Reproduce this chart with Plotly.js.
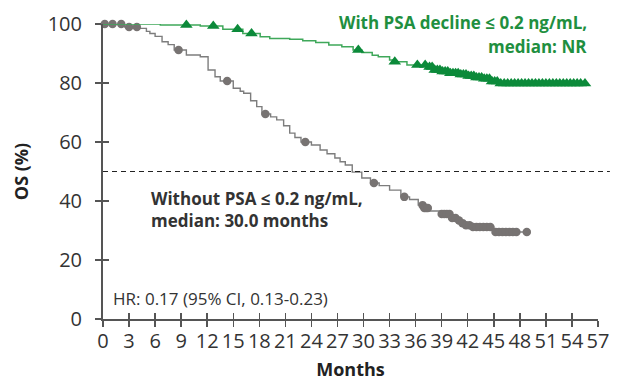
<!DOCTYPE html>
<html>
<head>
<meta charset="utf-8">
<script src="https://cdn.plot.ly/plotly-3.0.1.min.js"></script>
<style>html,body{margin:0;padding:0;background:#fff}#chart{width:620px;height:381px}</style>
</head>
<body>
<div id="chart"></div>
<script>
// Kaplan-Meier step data: Without PSA decline (grey)
const withoutTimes = [0, 2.5, 4.2, 5.0, 5.4, 6.0, 6.8, 7.5, 8.2, 9.6, 11.2, 12.1, 12.9, 13.5, 15.0, 15.8, 16.2, 17.0, 17.7, 18.3, 19.3, 20.0, 20.8, 21.5, 22.1, 22.8, 24.0, 25.0, 25.8, 26.7, 27.3, 27.9, 28.7, 29.8, 30.8, 31.8, 33.0, 34.3, 35.3, 36.3, 37.0, 37.6, 38.8, 40.0, 40.7, 41.1, 41.7, 42.3, 45.0, 48.8];
const withoutSurv  = [100, 99.0, 98.5, 97.5, 96.8, 95.8, 94.0, 93.0, 91.2, 89.5, 88.9, 84.4, 82.1, 80.7, 78.2, 77.2, 76.5, 74.0, 72.0, 69.5, 68.5, 67.5, 65.5, 63.0, 61.5, 60.0, 59.0, 57.3, 56.0, 54.6, 53.3, 52.2, 49.8, 47.8, 46.1, 45.2, 43.7, 41.4, 40.5, 38.6, 37.6, 36.6, 35.6, 34.2, 33.4, 32.5, 31.8, 31.2, 29.5, 29.5];
const withoutCensor = [0.2, 1.1, 2.1, 3.0, 3.9, 8.7, 14.3, 18.7, 23.3, 31.2, 34.7, 36.8, 37.0, 37.2, 37.4, 39.0, 39.3, 39.6, 39.9, 40.2, 40.6, 41.0, 41.4, 41.8, 42.2, 42.6, 43.0, 43.4, 43.8, 44.2, 44.6, 45.2, 45.6, 46.0, 46.4, 46.8, 47.2, 47.6, 48.8];

// With PSA decline <= 0.2 ng/mL (green)
const withTimes = [0, 6.6, 11.2, 13.8, 16.1, 18.1, 19.2, 21.5, 23.0, 24.5, 26.0, 27.5, 28.8, 29.8, 31.0, 31.7, 33.0, 33.5, 35.0, 37.3, 38.0, 39.0, 40.0, 41.0, 41.9, 42.8, 43.8, 44.8, 45.7, 55.5];
const withSurv  = [100, 99.7, 99.3, 98.2, 96.8, 95.7, 95.1, 94.8, 94.3, 93.7, 92.9, 92.3, 91.2, 90.3, 89.4, 88.9, 87.8, 87.2, 86.1, 85.4, 84.4, 83.9, 83.3, 82.9, 82.4, 81.9, 81.4, 80.5, 79.8, 79.8];
const withCensor = [9.6, 12.7, 15.5, 17.1, 29.4, 33.6, 36.2, 37.1, 37.6, 37.9, 38.2, 38.5, 38.8, 39.1, 39.4, 39.7, 40.0, 40.3, 40.6, 40.9, 41.2, 41.5, 41.8, 42.1, 42.4, 42.7, 43.0, 43.3, 43.6, 43.9, 44.2, 44.5, 44.8, 45.1, 45.4, 45.8, 46.2, 46.6, 47.0, 47.4, 47.8, 48.2, 48.6, 49.0, 49.4, 49.8, 50.2, 50.6, 51.0, 51.4, 51.8, 52.2, 52.6, 53.0, 53.4, 53.8, 54.2, 54.6, 55.0, 55.5];

const xTicks = [0,3,6,9,12,15,18,21,24,27,30,33,36,39,42,45,48,51,54,57];
const yTicks = [0,20,40,60,80,100];

function stepAt(ts, ss, t) {
  let v = ss[0];
  for (let i = 0; i < ts.length; i++) { if (ts[i] <= t) v = ss[i]; }
  return v;
}

const FONT = 'Open Sans, sans-serif';
const GREEN_LINE = '#3fa85a', GREEN_MARK = '#0c8a3a', GREY_LINE = '#7d7d7d', GREY_MARK = '#777372';

const traces = [
  {x: withoutTimes, y: withoutSurv, mode: 'lines', line: {shape: 'hv', color: GREY_LINE, width: 1.4}, hoverinfo: 'skip', cliponaxis: false},
  {x: withoutCensor, y: withoutCensor.map(t => stepAt(withoutTimes, withoutSurv, t)), mode: 'markers', marker: {symbol: 'circle', size: 8.5, color: GREY_MARK}, cliponaxis: false},
  {x: withTimes, y: withSurv, mode: 'lines', line: {shape: 'hv', color: GREEN_LINE, width: 1.5}, cliponaxis: false},
  {x: withCensor, y: withCensor.map(t => stepAt(withTimes, withSurv, t)), mode: 'markers', marker: {symbol: 'triangle-up', size: 11, color: GREEN_MARK}, cliponaxis: false},
  {x: [0], y: [0], xaxis: 'x2', yaxis: 'y2', mode: 'markers', marker: {opacity: 0}, hoverinfo: 'skip'}
];

const axBase = {showgrid: false, zeroline: false, showline: true, linecolor: '#555', linewidth: 2, tickcolor: '#555', tickwidth: 1.5, ticklen: 6};

const layout = {
  width: 620, height: 381,
  margin: {l: 103, r: 22, t: 24, b: 62},
  paper_bgcolor: '#fff', plot_bgcolor: '#fff',
  showlegend: false,
  font: {family: FONT, color: '#333'},
  xaxis: Object.assign({}, axBase, {range: [0, 57], tickvals: xTicks, ticktext: xTicks.map(String), ticks: 'outside', tickfont: {size: 20, color: '#333'}, ticklabelstandoff: -3,
    title: {text: '<b>Months</b>', font: {size: 18, color: '#222'}, standoff: 19}}),
  yaxis: Object.assign({}, axBase, {range: [0, 100], tickvals: yTicks, ticktext: yTicks.map(String), ticks: 'outside', tickfont: {size: 20, color: '#333'}, ticklabelstandoff: 9,
    title: {text: '<b>OS (%)</b>', font: {size: 18, color: '#222'}, standoff: 14}}),
  xaxis2: Object.assign({}, axBase, {overlaying: 'x', anchor: 'y2', range: [0, 57], tickvals: xTicks, ticks: 'inside', showticklabels: false, showline: false}),
  yaxis2: Object.assign({}, axBase, {overlaying: 'y', anchor: 'x2', range: [0, 100], tickvals: yTicks, ticks: 'inside', showticklabels: false, showline: false}),
  shapes: [
    {type: 'line', xref: 'paper', yref: 'y', x0: 0, x1: 1.024, y0: 50, y1: 50, line: {color: '#222', width: 1.2, dash: '5px,4px'}}
  ],
  annotations: [
    {xref: 'paper', yref: 'paper', x: 0.982, y: 1.004, xanchor: 'right', yanchor: 'middle', align: 'right', showarrow: false,
     text: '<b>With PSA decline ≤ 0.2 ng/mL,</b>', font: {size: 17, color: '#1f8f40'}},
    {xref: 'paper', yref: 'paper', x: 0.982, y: 0.923, xanchor: 'right', yanchor: 'middle', align: 'right', showarrow: false,
     text: '<b>median: NR</b>', font: {size: 17, color: '#1f8f40'}},
    {xref: 'paper', yref: 'paper', x: 0.093, y: 0.41, xanchor: 'left', yanchor: 'middle', align: 'left', showarrow: false,
     text: '<b>Without PSA ≤ 0.2 ng/mL,</b>', font: {size: 17, color: '#333'}},
    {xref: 'paper', yref: 'paper', x: 0.093, y: 0.333, xanchor: 'left', yanchor: 'middle', align: 'left', showarrow: false,
     text: '<b>median: 30.0 months</b>', font: {size: 17, color: '#333'}},
    {xref: 'paper', yref: 'paper', x: 0.016, y: 0.071, xanchor: 'left', yanchor: 'middle', align: 'left', showarrow: false,
     text: 'HR: 0.17 (95% CI, 0.13-0.23)', font: {size: 17, color: '#333'}}
  ]
};

Plotly.newPlot('chart', traces, layout, {staticPlot: true, displayModeBar: false});
</script>
</body>
</html>
